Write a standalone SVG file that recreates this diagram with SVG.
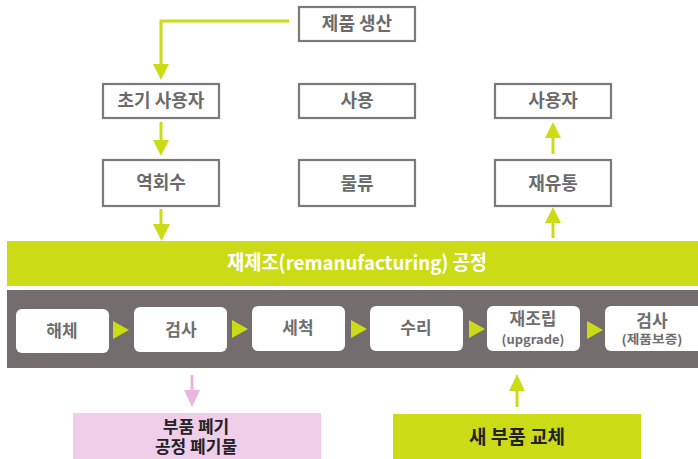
<svg xmlns="http://www.w3.org/2000/svg" width="698" height="459" viewBox="0 0 698 459">
<style>
text{font-family:"Noto Sans CJK KR","Noto Sans",sans-serif;font-weight:700;text-anchor:middle}
.box{fill:#fff;stroke:#7a7a7a;stroke-width:2.2}
.t{fill:#6b6b6b;font-size:18px}
.pbox{fill:#fff}
.pt{fill:#6e6e6e;font-size:17px}
.ps{fill:#6e6e6e;font-size:12.5px}
.gl{stroke:#cbdc17;stroke-width:3;fill:none}
.gh{fill:#cbdc17}
.tri{fill:#cbdc17}
</style>
<rect x="0" y="0" width="698" height="459" fill="#fff"/>

<g id="band-remanufacturing">
<rect x="7" y="241" width="691" height="45" fill="#cbdc17"/>
<text x="357" y="270" fill="#fff" font-size="20" textLength="260" lengthAdjust="spacingAndGlyphs">재제조(remanufacturing) 공정</text>
</g>
<g id="band-process">
<rect x="7" y="290" width="691" height="78" fill="#736e6d"/>
</g>

<g id="node-production"><rect class="box" x="299" y="7" width="116" height="34"/><text class="t" x="357" y="30">제품 생산</text></g>
<g id="node-initial-user"><rect class="box" x="103" y="84" width="116" height="34"/><text class="t" x="161" y="107">초기 사용자</text></g>
<g id="node-use"><rect class="box" x="299" y="84" width="116" height="34"/><text class="t" x="357" y="107">사용</text></g>
<g id="node-user"><rect class="box" x="495" y="84" width="116" height="34"/><text class="t" x="553" y="107">사용자</text></g>
<g id="node-reverse"><rect class="box" x="103" y="160" width="116" height="46"/><text class="t" x="161" y="189" font-size="15">역회수</text></g>
<g id="node-logistics"><rect class="box" x="299" y="160" width="116" height="46"/><text class="t" x="357" y="190">물류</text></g>
<g id="node-redistribution"><rect class="box" x="495" y="160" width="116" height="46"/><text class="t" x="553" y="190">재유통</text></g>

<g id="step-disassembly"><rect class="pbox" x="16" y="309" width="93" height="44" rx="6"/><text class="pt" x="62" y="337">해체</text></g>
<g id="step-inspection"><rect class="pbox" x="134" y="307" width="93" height="45" rx="6"/><text class="pt" x="181" y="336">검사</text></g>
<g id="step-cleaning"><rect class="pbox" x="252" y="306" width="93" height="45" rx="6"/><text class="pt" x="298" y="334">세척</text></g>
<g id="step-repair"><rect class="pbox" x="370" y="306" width="93" height="45" rx="6"/><text class="pt" x="416" y="334">수리</text></g>
<g id="step-reassembly"><rect class="pbox" x="487" y="306" width="93" height="45" rx="6"/><text class="pt" x="533" y="325">재조립</text><text class="ps" x="533" y="344" font-size="13" textLength="63" lengthAdjust="spacingAndGlyphs">(upgrade)</text></g>
<g id="step-final-inspection"><rect class="pbox" x="605" y="306" width="98" height="45" rx="6"/><text class="pt" x="652" y="327">검사</text><text class="ps" x="652" y="344" textLength="61" lengthAdjust="spacingAndGlyphs">(제품보증)</text></g>

<g id="node-waste"><rect x="73" y="413" width="248" height="46" fill="#f0cde9"/><text x="196" y="433" fill="#222" font-size="17">부품 폐기</text><text x="196" y="453" fill="#222" font-size="17">공정 폐기물</text></g>
<g id="node-new-parts"><rect x="393" y="414" width="248" height="45" fill="#cbdc17"/><text x="517" y="444" fill="#222" font-size="19">새 부품 교체</text></g>

<g id="connectors">
<polyline class="gl" points="289,21 161,21 161,66"/>
<polygon class="gh" points="153,64 169,64 161,80"/>
<line class="gl" x1="161" y1="122" x2="161" y2="142"/>
<polygon class="gh" points="153,140 169,140 161,156"/>
<line class="gl" x1="161" y1="209" x2="161" y2="226"/>
<polygon class="gh" points="153,224 170,224 161.5,241"/>
<line class="gl" x1="553" y1="154" x2="553" y2="136"/>
<polygon class="gh" points="545,138 561,138 553,122"/>
<line class="gl" x1="553" y1="238" x2="553" y2="221"/>
<polygon class="gh" points="545,223 561,223 553,207"/>
<polygon class="tri" points="113,321 113,339 129,330"/>
<polygon class="tri" points="232,320 232,338 248,329"/>
<polygon class="tri" points="351,320 351,338 367,329"/>
<polygon class="tri" points="469,320 469,338 485,329"/>
<polygon class="tri" points="587,321 587,339 603,330"/>
<line x1="192" y1="375" x2="192" y2="392" stroke="#ebb5e0" stroke-width="3"/>
<polygon points="184,390 200,390 192,407" fill="#ebb5e0"/>
<line class="gl" x1="517" y1="407" x2="517" y2="389"/>
<polygon class="gh" points="509,391 525,391 517,374"/>
</g>
</svg>
